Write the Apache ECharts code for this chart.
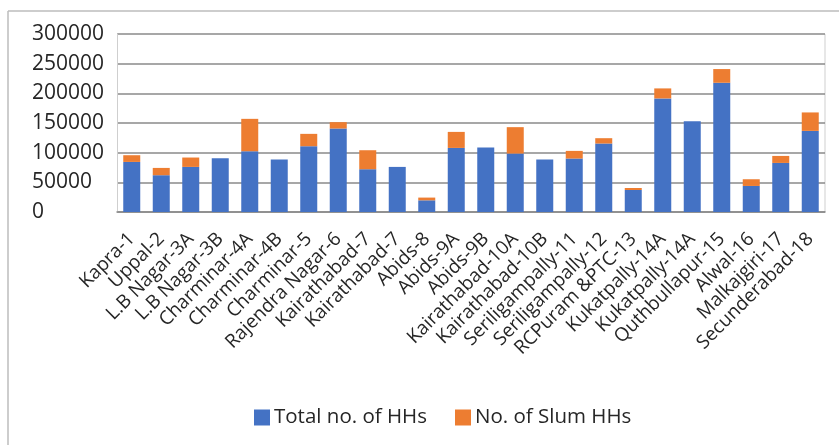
<!DOCTYPE html>
<html>
<head>
<meta charset="utf-8">
<script src="https://cdn.jsdelivr.net/npm/echarts@6/dist/echarts.min.js"></script>
<style>
html,body{margin:0;padding:0;background:#fff;}
#chart{width:839px;height:445px;}
</style>
</head>
<body>
<div id="chart"></div>
<script>
// Circle / zone names along the x axis
const circles = [
  'Kapra-1', 'Uppal-2', 'L.B Nagar-3A', 'L.B Nagar-3B', 'Charminar-4A', 'Charminar-4B',
  'Charminar-5', 'Rajendra Nagar-6', 'Kairathabad-7', 'Kairathabad-7', 'Abids-8', 'Abids-9A',
  'Abids-9B', 'Kairathabad-10A', 'Kairathabad-10B', 'Seriligampally-11', 'Seriligampally-12',
  'RCPuram &PTC-13', 'Kukatpally-14A', 'Kukatpally-14A', 'Quthbullapur-15', 'Alwal-16',
  'Malkajgiri-17', 'Secunderabad-18'
];

// Total households per circle
const totalHHs = [
  84400, 62000, 76000, 90600, 102400, 88400,
  110900, 140700, 72100, 76000, 19700, 108000,
  108700, 98500, 88400, 90100, 115400,
  37100, 191400, 153100, 217800, 43900,
  82700, 136700
];

// Slum households per circle (stacked on top)
const slumHHs = [
  11300, 12300, 15800, 0, 54600, 0,
  20800, 10700, 32000, 0, 4600, 27000,
  0, 44500, 0, 12900, 9000,
  3400, 16900, 0, 23100, 11300,
  11800, 31100
];

// Value axis ticks
const yTicks = [0, 50000, 100000, 150000, 200000, 250000, 300000];

const chart = echarts.init(document.getElementById('chart'));
const font = '"Open Sans", "Noto Sans", sans-serif';

chart.setOption({
  animation: false,
  backgroundColor: '#fff',
  textStyle: { fontFamily: font },
  grid: { left: 117, right: 14, top: 34, bottom: 233 },
  legend: {
    top: 402,
    left: 249,
    itemWidth: 16,
    itemHeight: 16,
    itemGap: 28,
    itemStyle: { borderWidth: 0 },
    icon: 'rect',
    textStyle: { fontSize: 20.5, color: '#262626', fontFamily: font, padding: [0, 0, 0, -1] },
    data: ['Total no. of HHs', 'No. of Slum HHs']
  },
  xAxis: {
    type: 'category',
    data: circles,
    axisLine: { show: true, lineStyle: { color: '#8a8a8a', width: 1.5 } },
    axisTick: { show: false },
    axisLabel: {
      interval: 0,
      rotate: 45,
      fontSize: 19,
      color: '#262626',
      margin: 24,
      padding: [30, 0, 0, 0],
      fontFamily: font
    }
  },
  yAxis: {
    type: 'value',
    min: yTicks[0],
    max: yTicks[yTicks.length - 1],
    interval: yTicks[1] - yTicks[0],
    axisLine: { show: true, lineStyle: { color: '#cfcfcf', width: 1 } },
    axisTick: { show: false },
    splitLine: { lineStyle: { color: '#8a8a8a', width: 1.5 } },
    axisLabel: {
      align: 'left',
      margin: 85,
      fontSize: 21,
      color: '#262626',
      fontFamily: font,
      formatter: (v) => String(v)
    }
  },
  series: [
    {
      name: 'Total no. of HHs',
      type: 'bar',
      stack: 'hh',
      data: totalHHs,
      barWidth: 17,
      itemStyle: { color: '#4472C4' }
    },
    {
      name: 'No. of Slum HHs',
      type: 'bar',
      stack: 'hh',
      data: slumHHs,
      barWidth: 17,
      itemStyle: { color: '#ED7D31' }
    }
  ],
  graphic: [
    // outer frame (top and left edges) and plot-area right edge
    { type: 'line', shape: { x1: 8, y1: 11, x2: 839, y2: 11 }, style: { stroke: '#bdbdbd', lineWidth: 1.5 } },
    { type: 'line', shape: { x1: 8, y1: 11, x2: 8, y2: 445 }, style: { stroke: '#bdbdbd', lineWidth: 1.5 } },
    { type: 'line', shape: { x1: 825, y1: 34, x2: 825, y2: 212 }, style: { stroke: '#cfcfcf', lineWidth: 1 } }
  ]
});
</script>
</body>
</html>
